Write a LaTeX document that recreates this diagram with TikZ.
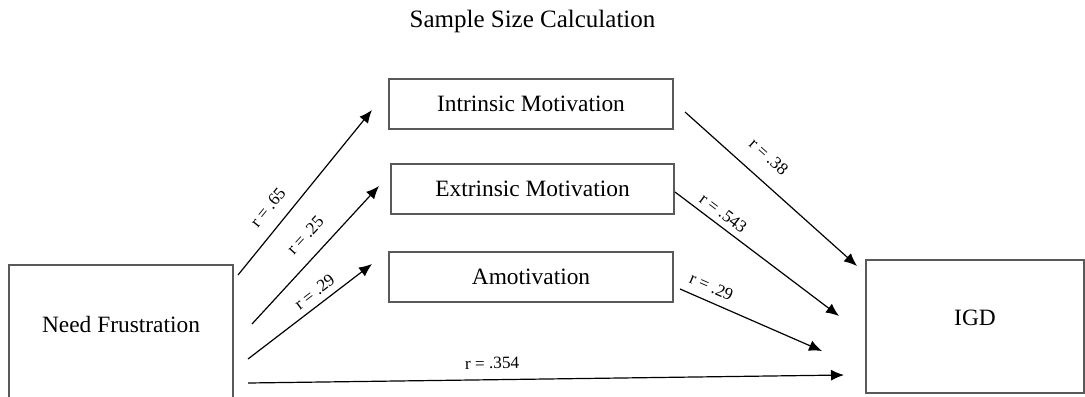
\documentclass[tikz,border=0pt]{standalone}
\usepackage{fontspec}
\setmainfont{Liberation Serif}
\usetikzlibrary{arrows.meta}

\begin{document}
\begin{tikzpicture}[x=0.5pt,y=-0.5pt]
    \tikzset{BoxStyle/.style =   {draw=black!65,line width=1pt,inner sep=0pt,minimum width=#1,font=\fontsize{11.7}{14}\selectfont}}
    \tikzset{PathArrow/.style =  {line width=.6pt,-{Latex[length=6.5pt,width=5.5pt]}}}
    \tikzset{CoefLabel/.style =  {sloped,inner sep=1pt,font=\fontsize{8.6}{10}\selectfont}}

    \useasboundingbox (0,0) rectangle (1085,396);
    \clip (0,0) rectangle (1085,396);

    \node[anchor=base,font=\fontsize{12.5}{15}\selectfont] (title) at (532.5,27) {Sample Size Calculation};

    % mediators
    \node[BoxStyle=142pt,minimum height=25pt] (intr) at (531,104) {Intrinsic Motivation};
    \node[BoxStyle=141.5pt,minimum height=25pt] (extr) at (532.5,189) {Extrinsic Motivation};
    \node[BoxStyle=142pt,minimum height=25pt] (amot) at (531,277) {Amotivation};

    % predictor and outcome
    \node[BoxStyle=112pt,anchor=north,text height=33.5pt,text depth=33.5pt] (needfr) at (121,264) {Need Frustration};
    \node[BoxStyle=109pt,anchor=north,text height=32.5pt,text depth=34pt] (igd) at (975,259) {IGD};

    \draw[PathArrow] ([shift={(4,-57)}]needfr.east) -- node[CoefLabel,above=5.5pt,pos=.335] {r = .65} ([shift={(-16,6)}]intr.west);
    \draw[PathArrow] ([shift={(18,-8)}]needfr.east) -- node[CoefLabel,above=6.2pt,pos=.54] {r = .25} ([shift={(-11,-3)}]extr.west);
    \draw[PathArrow] ([shift={(14,27)}]needfr.east) -- node[CoefLabel,above=2.2pt,pos=.6] {r = .29} ([shift={(-16,-13)}]amot.west);
    \draw[PathArrow] ([shift={(14,51)}]needfr.east) -- node[CoefLabel,above=4pt,pos=.41] {r = .354} ([shift={(-21,48.5)}]igd.west);

    \draw[PathArrow] ([shift={(11,8)}]intr.east) -- node[CoefLabel,above=7pt,pos=.4] {r = .38} ([shift={(-8,7)}]igd.north west);
    \draw[PathArrow] ([shift={(0,3)}]extr.east) -- node[CoefLabel,above=1.9pt,pos=.25] {r = .543} ([shift={(-26,-10.5)}]igd.west);
    \draw[PathArrow] ([shift={(6,12)}]amot.east) -- node[CoefLabel,above=3.1pt,pos=.18] {r = .29} ([shift={(-43,24.5)}]igd.west);
\end{tikzpicture}
\end{document}
